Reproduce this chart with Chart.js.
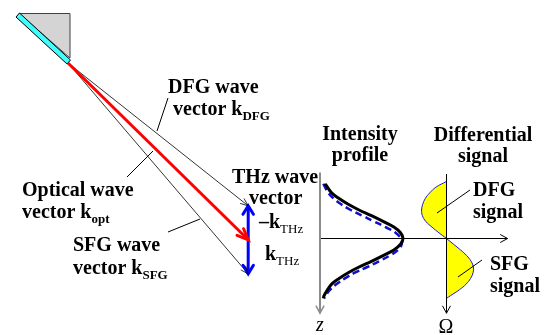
<!DOCTYPE html>
<html>
<head>
<meta charset="utf-8">
<script src="https://cdn.jsdelivr.net/npm/chart.js@4.4.1/dist/chart.umd.min.js"></script>
<style>
  html, body { margin: 0; padding: 0; background: #fff; }
</style>
</head>
<body>
<canvas id="sketch" width="551" height="335"></canvas>
<script>
// Wave vectors in k-space (|k_THz| = 1), x to the right, y downward
const vectorNames = ['k_DFG', 'k_opt', 'k_SFG'];
const vectorX = [5.3, 5.3, 5.3];
const vectorY = [4.2, 5.2, 6.2];

// Intensity profile across z (z = 0 at the beam centre)
const profileZ = [-0.96, -0.9, -0.8, -0.7, -0.6, -0.5, -0.4, -0.3, -0.2, -0.1, 0,
                  0.1, 0.2, 0.3, 0.4, 0.5, 0.6, 0.7, 0.8, 0.9, 1.0, 1.05];
const profileSolid = [0.06, 0.09, 0.14, 0.23, 0.34, 0.47, 0.62, 0.76, 0.89, 0.97, 1.0,
                      0.97, 0.89, 0.76, 0.62, 0.47, 0.34, 0.23, 0.14, 0.09, 0.05, 0.04];
const profileDashed = [0.04, 0.06, 0.10, 0.165, 0.255, 0.37, 0.51, 0.65, 0.79, 0.91, 0.975,
                       0.985, 0.94, 0.84, 0.71, 0.57, 0.42, 0.30, 0.20, 0.12, 0.07, 0.05];

// Differential signal versus z
const dfgZ = [-1.0, -0.9, -0.8, -0.7, -0.6, -0.5, -0.4, -0.3, -0.2, -0.1, 0];
const dfgS = [0, -0.38, -0.60, -0.76, -0.85, -0.89, -0.86, -0.74, -0.52, -0.27, 0];
const sfgZ = [0, 0.1, 0.2, 0.3, 0.4, 0.5, 0.6, 0.7, 0.8, 0.9, 1.0, 1.05];
const sfgS = [0, 0.25, 0.50, 0.72, 0.88, 0.96, 0.95, 0.86, 0.70, 0.46, 0.15, 0];

const W = 551, H = 335;

// min/max so that value v0 lands on pixel p0 and v1 on p1
function fit(p0, v0, p1, v1, size) {
    const k = (v1 - v0) / (p1 - p0);
    return { min: v0 - p0 * k, max: v0 + (size - p0) * k };
}

const pts = (xs, ys) => xs.map((x, i) => ({ x: x, y: ys[i] }));

function arrowHead(ctx, x, y, ang, len, spread, color, width) {
    ctx.save();
    ctx.strokeStyle = color;
    ctx.lineWidth = width;
    ctx.lineCap = 'round';
    ctx.lineJoin = 'miter';
    ctx.beginPath();
    ctx.moveTo(x - len * Math.cos(ang - spread), y - len * Math.sin(ang - spread));
    ctx.lineTo(x, y);
    ctx.lineTo(x - len * Math.cos(ang + spread), y - len * Math.sin(ang + spread));
    ctx.stroke();
    ctx.restore();
}

const arrowPlugin = {
    id: 'arrows',
    afterDatasetsDraw(chart) {
        const ctx = chart.ctx;
        chart.data.datasets.forEach((ds, i) => {
            if (!ds.head) return;
            const p = chart.getDatasetMeta(i).data;
            const h = ds.head;
            if (h.end) {
                const a = p[p.length - 1], b = p[p.length - 2];
                arrowHead(ctx, a.x, a.y, Math.atan2(a.y - b.y, a.x - b.x), h.len, h.spread, ds.borderColor, h.width);
            }
            if (h.start) {
                const a = p[0], b = p[1];
                arrowHead(ctx, a.x, a.y, Math.atan2(a.y - b.y, a.x - b.x), h.len, h.spread, ds.borderColor, h.width);
            }
        });
    }
};

// prism, leader lines and all the labels
const sketchPlugin = {
    id: 'sketch',
    beforeDatasetsDraw(chart) {
        const ctx = chart.ctx;
        ctx.save();
        ctx.fillStyle = '#d4d4d4';
        ctx.strokeStyle = '#404040';
        ctx.lineWidth = 1;
        ctx.beginPath();
        ctx.moveTo(19, 13.5); ctx.lineTo(70, 13.5); ctx.lineTo(70, 58);
        ctx.closePath();
        ctx.fill(); ctx.stroke();
        ctx.fillStyle = '#40ffff';
        ctx.strokeStyle = '#000';
        ctx.beginPath();
        ctx.moveTo(16, 17); ctx.lineTo(19.5, 13); ctx.lineTo(70.5, 60); ctx.lineTo(67, 64);
        ctx.closePath();
        ctx.fill(); ctx.stroke();
        ctx.restore();
    },
    afterDraw(chart) {
        const ctx = chart.ctx;
        ctx.save();
        ctx.strokeStyle = '#000';
        ctx.lineWidth = 1;
        [[157, 131, 168, 98], [127, 177, 153, 151], [168, 232, 200, 219],
         [437, 213, 470, 190], [458, 277, 482, 260]].forEach(l => {
            ctx.beginPath();
            ctx.moveTo(l[0], l[1]); ctx.lineTo(l[2], l[3]);
            ctx.stroke();
        });

        ctx.fillStyle = '#000';
        ctx.textBaseline = 'alphabetic';
        const serif = "'Liberation Serif', 'Times New Roman', serif";
        const big = 'bold 20px ' + serif;
        function txt(t, x, y, align, font) {
            ctx.font = font || big;
            ctx.textAlign = align || 'left';
            ctx.fillText(t, x, y);
        }
        function kLabel(main, sub, x, y, subFont) {
            ctx.font = big;
            ctx.textAlign = 'left';
            ctx.fillText(main, x, y);
            const w = ctx.measureText(main).width;
            ctx.font = subFont || ('bold 13px ' + serif);
            ctx.fillText(sub, x + w, y + 5);
        }
        txt('DFG wave', 168, 93);
        kLabel('vector k', 'DFG', 173, 115);
        txt('THz wave', 232, 183);
        txt('vector', 249, 204);
        kLabel('\u2013k', 'THz', 259, 228, '13px ' + serif);
        kLabel('k', 'THz', 265, 260, '13px ' + serif);
        txt('Optical wave', 22, 196);
        kLabel('vector k', 'opt', 22, 218);
        txt('SFG wave', 73, 251);
        kLabel('vector k', 'SFG', 73, 274);
        txt('Intensity', 360, 140, 'center');
        txt('profile', 360, 161, 'center');
        txt('Differential', 483, 141, 'center');
        txt('signal', 483, 162, 'center');
        txt('DFG', 473, 196);
        txt('signal', 473, 218);
        txt('SFG', 490, 270);
        txt('signal', 490, 292);
        txt('z', 320, 331, 'center', 'italic 20px ' + serif);
        txt('\u03A9', 446, 333, 'center', '20px ' + serif);
        ctx.restore();
    }
};

const thinHead = { end: true, len: 8, spread: 0.38, width: 0.8 };

const chart = new Chart(document.getElementById('sketch'), {
    type: 'scatter',
    data: {
        datasets: [
            // intensity profiles
            {
                label: 'profile (solid)', data: pts(profileSolid, profileZ),
                xAxisID: 'iX', yAxisID: 'zY', borderColor: '#000', borderWidth: 3,
                tension: 0.4, order: 1
            },
            {
                label: 'profile (dashed)', data: pts(profileDashed, profileZ),
                xAxisID: 'iX', yAxisID: 'zY', borderColor: '#1010c8', borderWidth: 2.5,
                borderDash: [7, 4], tension: 0.4, order: 2
            },
            // wave vectors
            {
                label: vectorNames[1], data: [{ x: 0, y: 0 }, { x: vectorX[1], y: vectorY[1] }],
                xAxisID: 'kx', yAxisID: 'ky', borderColor: '#ff0000', borderWidth: 3, order: 3,
                head: { end: true, len: 12, spread: 0.4, width: 3 }
            },
            {
                label: 'k_THz', data: [{ x: vectorX[0], y: vectorY[0] }, { x: vectorX[2], y: vectorY[2] }],
                xAxisID: 'kx', yAxisID: 'ky', borderColor: '#0000ff', borderWidth: 3, order: 4,
                head: { end: true, start: true, len: 10, spread: 0.55, width: 3 }
            },
            {
                label: vectorNames[0], data: [{ x: 0, y: 0 }, { x: vectorX[0], y: vectorY[0] }],
                xAxisID: 'kx', yAxisID: 'ky', borderColor: '#000', borderWidth: 0.8, order: 5,
                head: thinHead
            },
            {
                label: vectorNames[2], data: [{ x: 0, y: 0 }, { x: vectorX[2], y: vectorY[2] }],
                xAxisID: 'kx', yAxisID: 'ky', borderColor: '#000', borderWidth: 0.8, order: 6,
                head: thinHead
            },
            // axes of the two small plots
            {
                label: 'z axis', data: [{ x: 0, y: -1.16 }, { x: 0, y: 1.31 }],
                xAxisID: 'iX', yAxisID: 'zY', borderColor: '#8c8c8c', borderWidth: 2, order: 7,
                head: { end: true, len: 8, spread: 0.5, width: 1.5 }
            },
            {
                label: 'transverse axis', data: [{ x: 0, y: 0 }, { x: 2.26, y: 0 }],
                xAxisID: 'iX', yAxisID: 'zY', borderColor: '#000', borderWidth: 1, order: 8,
                head: { end: true, len: 8, spread: 0.5, width: 1 }
            },
            {
                label: 'Omega axis', data: [{ x: 0, y: -1.13 }, { x: 0, y: 1.31 }],
                xAxisID: 'sX', yAxisID: 'zY', borderColor: '#000', borderWidth: 1, order: 9,
                head: { end: true, len: 8, spread: 0.5, width: 1 }
            },
            // differential signal lobes
            {
                label: 'DFG signal', data: pts(dfgS, dfgZ),
                xAxisID: 'sX', yAxisID: 'zY', borderColor: '#1a1ad0', borderWidth: 1,
                backgroundColor: '#ffff00', fill: 'shape', tension: 0.4, order: 10
            },
            {
                label: 'SFG signal', data: pts(sfgS, sfgZ),
                xAxisID: 'sX', yAxisID: 'zY', borderColor: '#1a1ad0', borderWidth: 1,
                backgroundColor: '#ffff00', fill: 'shape', tension: 0.4, order: 11
            }
        ]
    },
    options: {
        responsive: false,
        animation: false,
        devicePixelRatio: 1,
        showLine: true,
        layout: { padding: 0 },
        elements: { point: { radius: 0, hoverRadius: 0 } },
        plugins: { legend: { display: false }, tooltip: { enabled: false } },
        scales: {
            kx: Object.assign({ type: 'linear', axis: 'x', position: 'bottom', display: false }, fit(68, 0, 102, 1, W)),
            ky: Object.assign({ type: 'linear', axis: 'y', position: 'left', display: false, reverse: true }, fit(63, 0, 97, 1, H)),
            iX: Object.assign({ type: 'linear', axis: 'x', position: 'bottom', display: false }, fit(320, 0, 403, 1, W)),
            sX: Object.assign({ type: 'linear', axis: 'x', position: 'bottom', display: false }, fit(446.5, 0, 474.5, 1, W)),
            zY: Object.assign({ type: 'linear', axis: 'y', position: 'left', display: false, reverse: true }, fit(238.5, 0, 295.5, 1, H))
        }
    },
    plugins: [sketchPlugin, arrowPlugin]
});
</script>
</body>
</html>
